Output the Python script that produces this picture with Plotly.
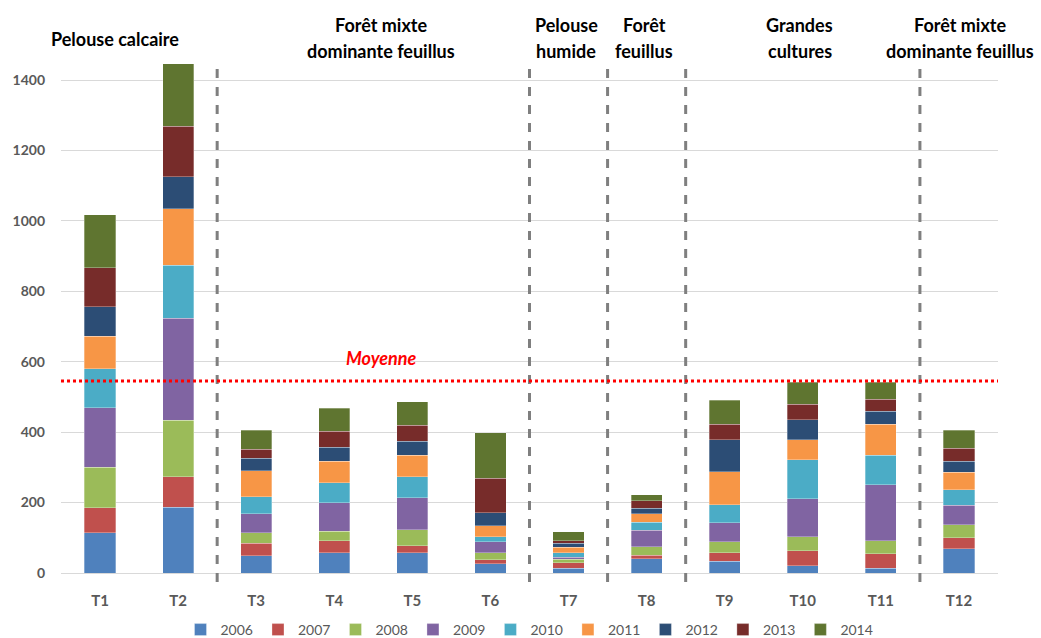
import plotly.graph_objects as go

categories = ["T1", "T2", "T3", "T4", "T5", "T6", "T7", "T8", "T9", "T10", "T11", "T12"]
years = ["2006", "2007", "2008", "2009", "2010", "2011", "2012", "2013", "2014"]

v2006 = [115, 187, 49, 57, 57, 26, 14, 40, 34, 21, 14, 69]
v2007 = [70, 87, 36, 34, 21, 11, 15, 11, 24, 42, 41, 31]
v2008 = [116, 160, 29, 28, 45, 20, 10, 23, 31, 40, 37, 37]
v2009 = [168, 289, 55, 81, 91, 32, 6, 47, 54, 108, 159, 55]
v2010 = [111, 151, 48, 57, 60, 14, 12, 23, 51, 110, 83, 45]
v2011 = [93, 160, 74, 60, 60, 31, 16, 24, 94, 58, 89, 49]
v2012 = [83, 91, 35, 40, 40, 37, 11, 16, 91, 57, 37, 31]
v2013 = [111, 144, 25, 46, 46, 98, 7, 21, 44, 43, 34, 38]
v2014 = [150, 177, 55, 65, 66, 130, 26, 17, 68, 63, 48, 51]

series = [v2006, v2007, v2008, v2009, v2010, v2011, v2012, v2013, v2014]
colors = ["#4F81BD", "#C0504D", "#9BBB59", "#8064A2", "#4BACC6",
          "#F79646", "#2C4D75", "#772C2A", "#5F7530"]

groups = [
    (["Pelouse calcaire"], 0.19),
    (["Forêt mixte", "dominante feuillus"], 3.6),
    (["Pelouse", "humide"], 5.97),
    (["Forêt", "feuillus"], 6.97),
    (["Grandes", "cultures"], 8.96),
    (["Forêt mixte", "dominante feuillus"], 11.01),
]
separators = [1.5, 5.5, 6.5, 7.5, 10.5]
yticks = [0, 200, 400, 600, 800, 1000, 1200, 1400]

totals = [sum(s[i] for s in series) for i in range(len(categories))]
mean_val = sum(totals) / len(totals)

W, H = 1041, 638
mt, mb, ml, mr = 59, 65, 61, 43
plot_h = H - mt - mb


def py(pix):
    return (H - mb - pix) / plot_h


fig = go.Figure()
for y, vals, col in zip(years, series, colors):
    fig.add_trace(go.Bar(
        name=y, x=categories, y=vals,
        marker=dict(color=col, line=dict(color="rgba(255,255,255,0.6)", width=0.5)),
    ))

for s in separators:
    fig.add_shape(type="line", xref="x", yref="paper", x0=s, x1=s,
                  y0=py(582), y1=py(66),
                  line=dict(color="#7F7F7F", width=3, dash="dash"))

fig.add_shape(type="line", xref="paper", yref="y", x0=0, x1=1,
              y0=mean_val, y1=mean_val,
              line=dict(color="#FF0000", width=3, dash="dot"))

fig.add_annotation(x=3.6, xref="x", y=mean_val, yref="y", text="<i><b>Moyenne</b></i>",
                   showarrow=False, yanchor="bottom", yshift=10,
                   font=dict(family="Lato", size=18, color="#FF0000"))

for lines, xc in groups:
    ys = [39] if len(lines) == 1 else [25, 51]
    for txt, yp in zip(lines, ys):
        fig.add_annotation(x=xc, xref="x", y=py(yp), yref="paper", text="<b>" + txt + "</b>",
                           showarrow=False, yanchor="middle", xanchor="center",
                           font=dict(family="Lato", size=18, color="#000000"))

fig.update_layout(
    width=W, height=H,
    barmode="stack", bargap=0.6,
    plot_bgcolor="white", paper_bgcolor="white",
    margin=dict(l=ml, r=mr, t=mt, b=mb, autoexpand=False),
    font=dict(family="Lato", color="#595959"),
    legend=dict(orientation="h", x=0.5, xanchor="center", y=py(630), yanchor="middle",
                font=dict(size=14, color="#595959"), traceorder="normal",
                itemwidth=30, tracegroupgap=0),
    showlegend=True,
)
fig.update_xaxes(range=[-0.5, len(categories) - 0.5], showline=True, linecolor="#D9D9D9",
                 linewidth=1, ticks="", automargin=False, ticklabelstandoff=14,
                 tickfont=dict(size=15, color="#595959", family="Lato", weight="bold"))
fig.update_yaxes(range=[0, 1460], tickvals=yticks, showgrid=True, gridcolor="#D9D9D9",
                 gridwidth=1, zeroline=False, ticks="", automargin=False, ticklabelstandoff=15,
                 tickfont=dict(size=14, color="#595959", family="Lato", weight="bold"))

fig.write_html("out.html", config={"displayModeBar": False},
               post_script="document.body.style.margin='0';")
